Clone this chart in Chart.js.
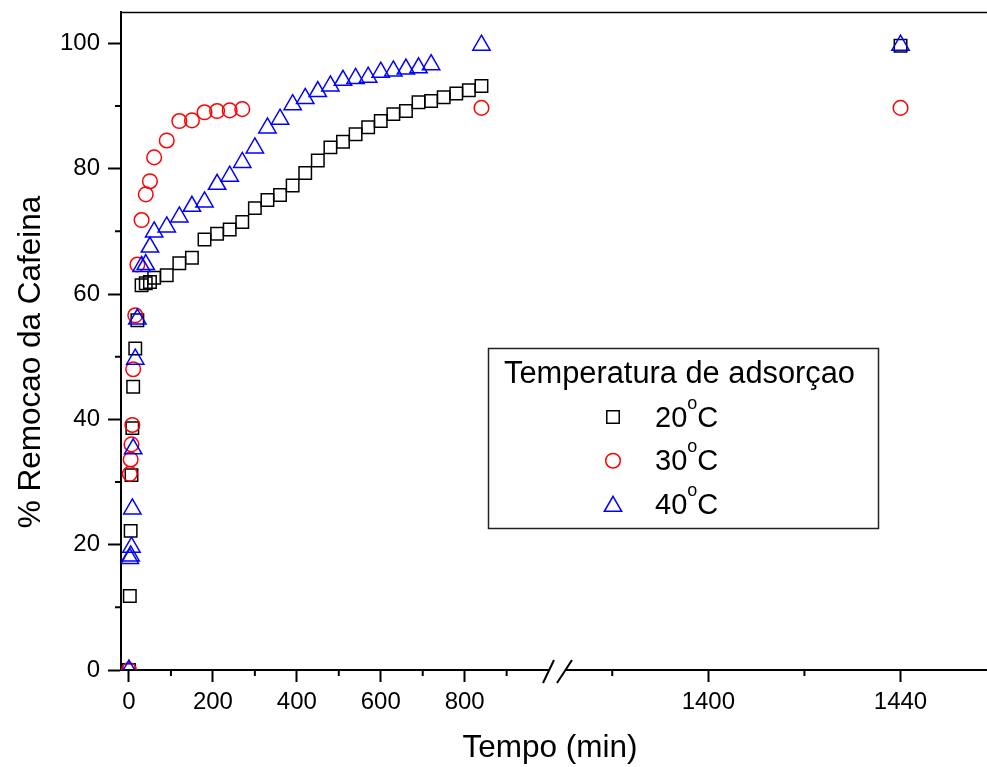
<!DOCTYPE html>
<html><head><meta charset="utf-8">
<script src="https://cdn.jsdelivr.net/npm/chart.js@4.4.0/dist/chart.umd.min.js"></script>
<style>html,body{margin:0;padding:0;background:#fff;}#wrap{width:987px;height:767px;}</style>
</head><body><div id="wrap"><canvas id="c" width="987" height="767"></canvas></div>
<script>
const FONT = "'Liberation Sans', Arial, Helvetica, sans-serif";

// ---- data (time in min, % removal) ----
const time20 = [0,2,4,6,8,10,15,20,30,40,50,60,90,120,150,180,210,240,270,300,330,360,390,420,450,480,510,540,570,600,630,660,690,720,750,780,810,840,1440];
const rem20  = [0,11.8,22.2,31.1,38.6,45.2,51.3,55.8,61.4,61.7,61.9,62.6,63.0,64.9,65.8,68.7,69.6,70.3,71.5,73.7,75.0,75.8,77.3,79.3,81.3,83.4,84.3,85.5,86.6,87.6,88.7,89.2,90.6,90.8,91.4,92.0,92.5,93.2,99.6];
const time30 = [0,2,4,6,8,10,15,20,30,40,50,60,90,120,150,180,210,240,270,840,1440];
const rem30  = [0,31.3,33.6,36.0,39.1,48.0,56.6,64.7,71.8,75.9,78.0,81.8,84.5,87.6,87.7,89.0,89.2,89.3,89.5,89.7,89.7];
const time40 = [0,2,4,6,8,10,15,20,30,40,50,60,90,120,150,180,210,240,270,300,330,360,390,420,450,480,510,540,570,600,630,660,690,720,840,1440];
const rem40  = [0,17.8,18.2,19.6,25.7,35.3,49.6,56.0,64.4,64.7,67.5,69.9,70.7,72.3,74.0,74.7,77.5,78.8,81.0,83.3,86.5,87.9,90.2,91.2,92.3,93.2,94.1,94.4,94.6,95.4,95.6,95.9,96.1,96.6,99.7,99.7];

const seriesLabels = ['20', '30', '40'];
const legendTitle = 'Temperatura de adsorçao';
const xTitle = 'Tempo (min)';
const yTitle = '% Remocao da Cafeina';

const xTicksLeft  = [0,200,400,600,800];
const xMinorLeft  = [100,300,500,700,900];
const xTicksRight = [1400,1440];
const xMinorRight = [1380,1420];
const yTicks = [0,20,40,60,80,100];
const yMinor = [10,30,50,70,90];
const BREAK_SPLIT = 1100;

const styles = [
  {color:'#000000', style:'rect', radius:8.8, order:3},
  {color:'#ff0000', style:'circle', radius:7.3, order:2},
  {color:'#0000ff', style:'triangle', radius:10, order:1}
];
const seriesData = [[time20, rem20],[time30, rem30],[time40, rem40]];

const datasets = [];
seriesData.forEach((sd, k) => {
  const st = styles[k];
  ['xL','xR'].forEach(axis => {
    const pts = sd[0].map((t,i)=>({x:t, y:sd[1][i]}))
      .filter(p => axis === 'xL' ? p.x < BREAK_SPLIT : p.x >= BREAK_SPLIT);
    datasets.push({
      label: seriesLabels[k], data: pts, xAxisID: axis, yAxisID: 'y',
      showLine: false, pointStyle: st.style, pointRadius: st.radius, pointHoverRadius: st.radius,
      pointBorderWidth: 1.5, borderColor: st.color, backgroundColor: 'rgba(0,0,0,0)',
      order: st.order, clip: 0
    });
  });
});

const tickFont = {family: FONT, size: 24};
function xScale(min, max, weight, ticks) {
  return {
    type: 'linear', position: 'bottom', stack: 'bottomStack', stackWeight: weight, min: min, max: max,
    afterBuildTicks: sc => { sc.ticks = ticks.map(v => ({value: v})); },
    afterFit: sc => { sc.height = 97; sc.paddingLeft = 0; sc.paddingRight = 0; },
    grid: {drawOnChartArea: false, drawTicks: true, tickLength: 12, tickWidth: 2, tickColor: '#000'},
    border: {display: true, width: 2, color: '#000'},
    ticks: {font: tickFont, color: '#000', padding: 6, maxRotation: 0, minRotation: 0, autoSkip: false,
            callback: v => String(v)}
  };
}

const decor = {
  id: 'decor',
  afterDraw(chart) {
    const ctx = chart.ctx;
    const ca = chart.chartArea;
    const y = chart.scales.y, xL = chart.scales.xL, xR = chart.scales.xR;
    ctx.save();
    ctx.strokeStyle = '#000';
    // top frame
    ctx.lineWidth = 1.5;
    ctx.beginPath(); ctx.moveTo(ca.left, ca.top + 0.5); ctx.lineTo(ca.right, ca.top + 0.5); ctx.stroke();
    // minor ticks
    ctx.lineWidth = 2;
    ctx.beginPath();
    yMinor.forEach(v => { const p = y.getPixelForValue(v); ctx.moveTo(ca.left, p); ctx.lineTo(ca.left - 6, p); });
    xMinorLeft.forEach(v => { const p = xL.getPixelForValue(v); ctx.moveTo(p, ca.bottom); ctx.lineTo(p, ca.bottom + 6); });
    xMinorRight.forEach(v => { const p = xR.getPixelForValue(v); ctx.moveTo(p, ca.bottom); ctx.lineTo(p, ca.bottom + 6); });
    ctx.stroke();
    // axis break
    const bx = xL.right;
    ctx.fillStyle = '#fff';
    ctx.fillRect(bx - 8, ca.bottom - 3, 16, 6);
    ctx.beginPath();
    ctx.moveTo(bx - 14, ca.bottom + 13); ctx.lineTo(bx - 3, ca.bottom - 10);
    ctx.moveTo(bx + 0, ca.bottom + 13); ctx.lineTo(bx + 15, ca.bottom - 10);
    ctx.stroke();
    // axis titles
    ctx.fillStyle = '#000';
    ctx.font = '31.5px ' + FONT;
    ctx.textAlign = 'center';
    ctx.textBaseline = 'alphabetic';
    ctx.fillText(xTitle, 550, 757);
    ctx.save();
    ctx.translate(40, 362);
    ctx.rotate(-Math.PI / 2);
    ctx.fillText(yTitle, 0, 0);
    ctx.restore();
    // legend
    ctx.lineWidth = 1.5;
    ctx.strokeStyle = '#222';
    ctx.strokeRect(488.5, 348.5, 390, 180);
    ctx.textAlign = 'left';
    ctx.fillStyle = '#000';
    ctx.font = '30.8px ' + FONT;
    ctx.fillText(legendTitle, 504, 383);
    const rows = [417, 460.7, 504.3];
    seriesLabels.forEach((lab, k) => {
      const st = styles[k];
      ctx.strokeStyle = st.color;
      ctx.fillStyle = 'rgba(0,0,0,0)';
      ctx.lineWidth = 1.5;
      Chart.helpers.drawPoint(ctx, {pointStyle: st.style, radius: st.radius, rotation: 0, borderWidth: 1.5}, 613, rows[k] + (st.style === 'triangle' ? 2 : 0));
      ctx.fillStyle = '#000';
      let x = 655;
      const base = rows[k] + 9.7;
      ctx.font = '29px ' + FONT;
      ctx.fillText(lab, x, base);
      x += ctx.measureText(lab).width;
      ctx.font = '18px ' + FONT;
      ctx.fillText('o', x, base - 18);
      x += ctx.measureText('o').width;
      ctx.font = '29px ' + FONT;
      ctx.fillText('C', x, base);
    });
    ctx.restore();
  }
};

new Chart(document.getElementById('c'), {
  type: 'scatter',
  data: {datasets: datasets},
  options: {
    responsive: false,
    animation: false,
    devicePixelRatio: 1,
    layout: {autoPadding: false, padding: {top: 12, left: 0, right: 0, bottom: 0}},
    plugins: {legend: {display: false}, tooltip: {enabled: false}, title: {display: false}},
    scales: {
      xL: xScale(-19, 1020, 436, xTicksLeft),
      xR: xScale(1368.5, 1458, 430, xTicksRight),
      y: {
        type: 'linear', position: 'left', min: 0, max: 105,
        afterBuildTicks: sc => { sc.ticks = yTicks.map(v => ({value: v})); },
        afterFit: sc => { sc.width = 121; sc.paddingTop = 0; sc.paddingBottom = 0; },
        grid: {drawOnChartArea: false, drawTicks: true, tickLength: 13, tickWidth: 2, tickColor: '#000'},
        border: {display: true, width: 2, color: '#000'},
        ticks: {font: tickFont, color: '#000', padding: 8, autoSkip: false, callback: v => String(v)}
      }
    }
  },
  plugins: [decor]
});
</script></body></html>
